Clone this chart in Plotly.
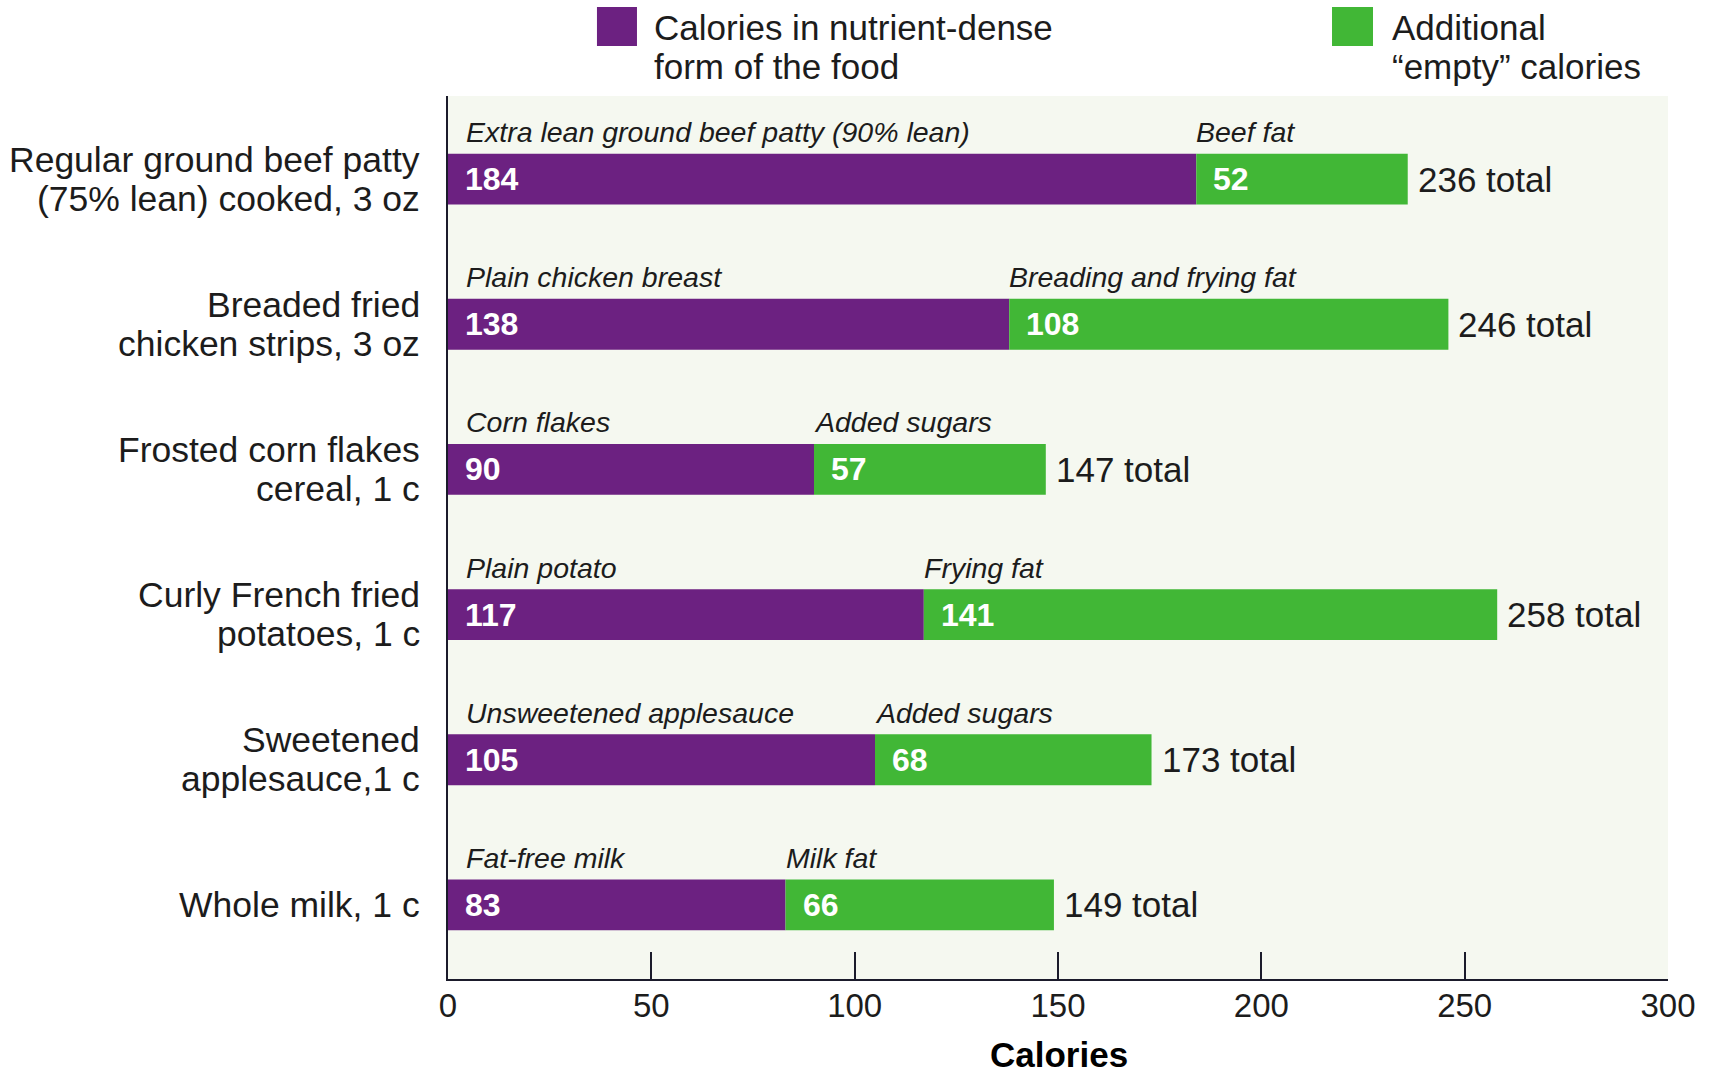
import plotly.graph_objects as go

# Foods compared: calories from the nutrient-dense form vs. added "empty" calories
food_labels = [
    "Regular ground beef patty<br>(75% lean) cooked, 3 oz",
    "Breaded fried<br>chicken strips, 3 oz",
    "Frosted corn flakes<br>cereal, 1 c",
    "Curly French fried<br>potatoes, 1 c",
    "Sweetened<br>applesauce,1 c",
    "Whole milk, 1 c",
]
dense_names = [
    "Extra lean ground beef patty (90% lean)",
    "Plain chicken breast",
    "Corn flakes",
    "Plain potato",
    "Unsweetened applesauce",
    "Fat-free milk",
]
empty_names = [
    "Beef fat",
    "Breading and frying fat",
    "Added sugars",
    "Frying fat",
    "Added sugars",
    "Milk fat",
]
dense_calories = [184, 138, 90, 117, 105, 83]
empty_calories = [52, 108, 57, 141, 68, 66]
x_ticks = [0, 50, 100, 150, 200, 250, 300]

PURPLE = "#6c2181"
GREEN = "#41b736"
INK = "#1c1c1c"
FONT = "Liberation Sans, Arial, Helvetica, sans-serif"

rows = list(range(len(food_labels)))
totals = [d + e for d, e in zip(dense_calories, empty_calories)]

fig = go.Figure()
fig.add_trace(go.Bar(
    y=rows, x=dense_calories, orientation="h", width=0.35,
    marker=dict(color=PURPLE, line=dict(width=0)),
    name="Calories in nutrient-dense form of the food", showlegend=False,
))
fig.add_trace(go.Bar(
    y=rows, x=empty_calories, base=dense_calories, orientation="h", width=0.35,
    marker=dict(color=GREEN, line=dict(width=0)),
    name="Additional \u201cempty\u201d calories", showlegend=False,
))

ann = []
for i in rows:
    d, e, t = dense_calories[i], empty_calories[i], totals[i]
    # values printed inside each segment
    ann.append(dict(x=0, y=i, text=f"<b>{d}</b>", xanchor="left", yanchor="middle",
                    xshift=15, showarrow=False,
                    font=dict(family=FONT, size=32, color="white")))
    ann.append(dict(x=d, y=i, text=f"<b>{e}</b>", xanchor="left", yanchor="middle",
                    xshift=15, showarrow=False,
                    font=dict(family=FONT, size=32, color="white")))
    # total at the end of the bar
    ann.append(dict(x=t, y=i, text=f"{t} total", xanchor="left", yanchor="middle",
                    xshift=8, showarrow=False,
                    font=dict(family=FONT, size=35, color=INK)))
    # italic segment names above the bar
    ann.append(dict(x=0, y=i, text=f"<i>{dense_names[i]}</i>", xanchor="left",
                    yanchor="middle", xshift=16, yshift=47, showarrow=False,
                    font=dict(family=FONT, size=28.5, color=INK)))
    ann.append(dict(x=d, y=i, text=f"<i>{empty_names[i]}</i>", xanchor="left",
                    yanchor="middle", xshift=-2, yshift=47, showarrow=False,
                    font=dict(family=FONT, size=28.5, color=INK)))
    # food names to the left of the axis, one annotation per line
    lines = food_labels[i].split("<br>")
    offsets = [0] if len(lines) == 1 else [19.5, -19.5]
    for line, off in zip(lines, offsets):
        ann.append(dict(x=0, xref="paper", y=i, text=line, xanchor="right",
                        yanchor="middle", xshift=-26, yshift=off, showarrow=False,
                        font=dict(family=FONT, size=35.5, color=INK)))

# axis title
ann.append(dict(x=0.501, xref="paper", y=-0.086, yref="paper", text="<b>Calories</b>",
                xanchor="center", yanchor="middle", showarrow=False,
                font=dict(family=FONT, size=35, color="black")))

# key at the top
legend_rows = [
    (0.1672, ["Calories in nutrient-dense", "form of the food"]),
    (0.7725, ["Additional", "\u201cempty\u201d calories"]),
]
for x0, lines in legend_rows:
    for line, yy in zip(lines, [1.0781, 1.0334]):
        ann.append(dict(x=x0, xref="paper", y=yy, yref="paper", text=line,
                        xanchor="left", yanchor="middle", showarrow=False,
                        font=dict(family=FONT, size=35, color=INK)))

shapes = [
    dict(type="rect", xref="paper", yref="paper", x0=0.1221, x1=0.1549,
         y0=1.0566, y1=1.1008, fillcolor=PURPLE, line=dict(width=0)),
    dict(type="rect", xref="paper", yref="paper", x0=0.7246, x1=0.7582,
         y0=1.0566, y1=1.1008, fillcolor=GREEN, line=dict(width=0)),
]

fig.update_layout(
    width=1709, height=1077,
    margin=dict(l=448, r=41, t=96, b=98),
    barmode="overlay",
    paper_bgcolor="white",
    plot_bgcolor="#f5f8f0",
    annotations=ann,
    shapes=shapes,
    font=dict(family=FONT, color=INK),
)
fig.update_xaxes(
    range=[0, 300], tickvals=x_ticks, ticktext=[str(v) for v in x_ticks],
    ticks="inside", ticklen=27, tickwidth=2, tickcolor="#1b1b2b",
    showline=True, linecolor="#1b1b2b", linewidth=2,
    showgrid=False, zeroline=False, ticklabelstandoff=-4,
    tickfont=dict(family=FONT, size=33, color=INK),
)
fig.update_yaxes(
    range=[5.51, -0.572], showticklabels=False, ticks="",
    showline=True, linecolor="#1b1b2b", linewidth=2,
    showgrid=False, zeroline=False,
)

fig.write_html("out.html")
